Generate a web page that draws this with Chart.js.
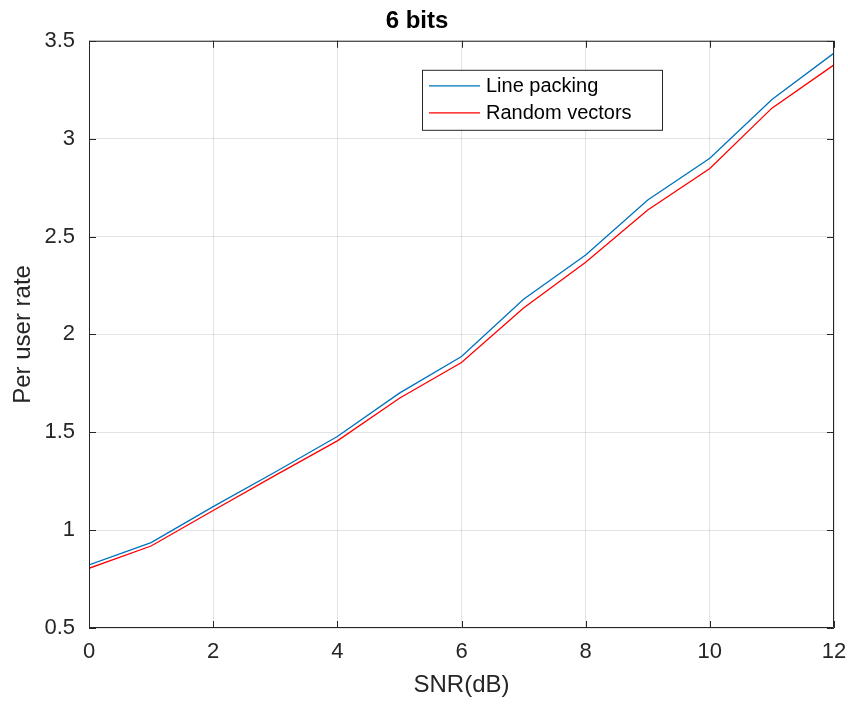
<!DOCTYPE html>
<html>
<head>
<meta charset="utf-8">
<script src="https://cdn.jsdelivr.net/npm/chart.js@4/dist/chart.umd.min.js"></script>
<style>
  html, body { margin: 0; padding: 0; background: #fff; }
  #wrap { width: 848px; height: 704px; }
</style>
</head>
<body>
<div id="wrap"><canvas id="rate"></canvas></div>
<script>
// SNR sweep and per-user rate for the two codebooks
const snrDb = [0, 1, 2, 3, 4, 5, 6, 7, 8, 9, 10, 11, 12];
const linePacking = [0.822, 0.936, 1.12, 1.297, 1.478, 1.70, 1.887, 2.18, 2.406, 2.687, 2.90, 3.20, 3.437];
const randomVectors = [0.805, 0.919, 1.10, 1.28, 1.456, 1.674, 1.856, 2.135, 2.369, 2.636, 2.848, 3.156, 3.377];
const seriesNames = ['Line packing', 'Random vectors'];
const xTicks = [0, 2, 4, 6, 8, 10, 12];
const yTicks = [0.5, 1, 1.5, 2, 2.5, 3, 3.5];

const FONT = '"Liberation Sans", Arial, Helvetica, sans-serif';
const AXIS = '#262626';
const BLUE = '#0072BD';
const RED = '#FF0000';

const toPoints = (ys) => ys.map((y, i) => ({ x: snrDb[i], y: y }));

// box around the axes with inward ticks on all four sides, plus the legend
const matlabBox = {
    id: 'matlabBox',
    afterDatasetsDraw(chart) {
        const { ctx, chartArea: a, scales } = chart;
        const tl = 7;
        ctx.save();
        ctx.strokeStyle = AXIS;
        ctx.lineWidth = 1;
        ctx.beginPath();
        ctx.rect(a.left + 0.5, a.top + 0.5, a.right - a.left - 1, a.bottom - a.top - 1);
        xTicks.forEach(v => {
            const px = Math.round(scales.x.getPixelForValue(v)) + 0.5;
            ctx.moveTo(px, a.bottom); ctx.lineTo(px, a.bottom - tl);
            ctx.moveTo(px, a.top); ctx.lineTo(px, a.top + tl);
        });
        yTicks.forEach(v => {
            const py = Math.round(scales.y.getPixelForValue(v)) + 0.5;
            ctx.moveTo(a.left, py); ctx.lineTo(a.left + tl, py);
            ctx.moveTo(a.right, py); ctx.lineTo(a.right - tl, py);
        });
        ctx.stroke();

        // legend
        const lx = a.left + 333, ly = a.top + 29, lw = 240, lh = 60;
        ctx.fillStyle = '#fff';
        ctx.fillRect(lx, ly, lw, lh);
        ctx.strokeStyle = AXIS;
        ctx.strokeRect(lx + 0.5, ly + 0.5, lw, lh);
        const colors = [BLUE, RED];
        ctx.font = '20px ' + FONT;
        ctx.textBaseline = 'middle';
        seriesNames.forEach((name, i) => {
            const y = ly + 16 + i * 27;
            ctx.strokeStyle = colors[i];
            ctx.lineWidth = 1.3;
            ctx.beginPath();
            ctx.moveTo(lx + 7, y); ctx.lineTo(lx + 58, y);
            ctx.stroke();
            ctx.fillStyle = '#000';
            ctx.fillText(name, lx + 64, y + 1);
        });
        ctx.restore();
    }
};

const ctx = document.getElementById('rate').getContext('2d');
new Chart(ctx, {
    type: 'line',
    data: {
        datasets: [{
            label: seriesNames[0],
            data: toPoints(linePacking),
            borderColor: BLUE,
            borderWidth: 1.3,
            pointRadius: 0,
            tension: 0,
            fill: false
        }, {
            label: seriesNames[1],
            data: toPoints(randomVectors),
            borderColor: RED,
            borderWidth: 1.3,
            pointRadius: 0,
            tension: 0,
            fill: false
        }]
    },
    options: {
        responsive: true,
        maintainAspectRatio: false,
        animation: false,
        layout: { padding: { left: 0, right: 14, top: 0, bottom: 0 } },
        scales: {
            x: {
                type: 'linear',
                min: 0,
                max: 12,
                afterFit: (s) => { s.height = 76; s.paddingLeft = 0; s.paddingRight = 0; },
                afterBuildTicks: (s) => { s.ticks = xTicks.map(v => ({ value: v })); },
                grid: { color: 'rgba(0,0,0,0.11)', drawTicks: false },
                border: { display: false },
                ticks: { color: AXIS, font: { family: FONT, size: 22 }, padding: 11, maxRotation: 0 },
                title: {
                    display: true,
                    text: 'SNR(dB)',
                    color: AXIS,
                    font: { family: FONT, size: 24 },
                    padding: { top: 0, bottom: 4 }
                }
            },
            y: {
                min: 0.5,
                max: 3.5,
                afterFit: (s) => { s.width = 89; s.paddingTop = 0; s.paddingBottom = 0; },
                afterBuildTicks: (s) => { s.ticks = yTicks.map(v => ({ value: v })); },
                grid: { color: 'rgba(0,0,0,0.11)', drawTicks: false },
                border: { display: false },
                ticks: {
                    color: AXIS,
                    font: { family: FONT, size: 22 },
                    padding: 14,
                    callback: (v) => String(v)
                },
                title: {
                    display: true,
                    text: 'Per user rate',
                    color: AXIS,
                    font: { family: FONT, size: 24 },
                    padding: { top: 9, bottom: 0 }
                }
            }
        },
        plugins: {
            legend: { display: false },
            tooltip: { enabled: false },
            title: {
                display: true,
                text: '6 bits',
                color: '#000',
                font: { family: FONT, size: 24, weight: 'bold' },
                padding: { top: 7, bottom: 5 }
            }
        }
    },
    plugins: [matlabBox]
});
</script>
</body>
</html>
